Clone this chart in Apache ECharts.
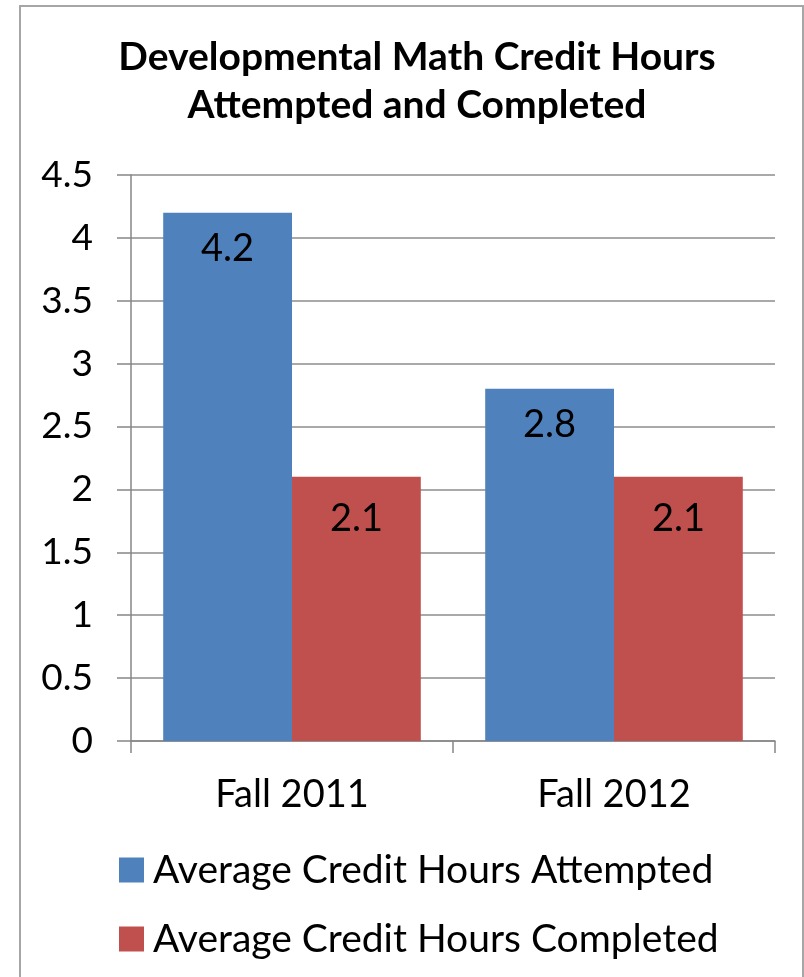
<!DOCTYPE html>
<html>
<head>
<meta charset="utf-8">
<script src="https://cdn.jsdelivr.net/npm/echarts@6/dist/echarts.min.js"></script>
<style>
  html, body { margin: 0; padding: 0; background: #fff; }
  #chart { width: 804px; height: 977px; }
</style>
</head>
<body>
<div id="chart"></div>
<script>
const categories = ['Fall 2011', 'Fall 2012']
const attempted = [4.2, 2.8]
const completed = [2.1, 2.1]
const seriesNames = ['Average Credit Hours Attempted', 'Average Credit Hours Completed']

const font = 'Lato'
const myChart = echarts.init(document.getElementById('chart'))

const option = {
  animation: false,
  textStyle: { fontFamily: font },
  graphic: [
    {
      type: 'rect',
      shape: { x: 20, y: 6, width: 783, height: 990 },
      style: { fill: 'none', stroke: '#a6a6a6', lineWidth: 2 }
    }
  ],
  title: {
    text: 'Developmental Math Credit Hours\nAttempted and Completed',
    left: 412,
    textAlign: 'center',
    top: 28,
    textStyle: {
      fontFamily: font,
      fontWeight: 'bold',
      fontSize: 39,
      lineHeight: 48,
      color: '#000'
    }
  },
  legend: {
    orient: 'vertical',
    left: 114,
    top: 845,
    itemWidth: 25,
    itemHeight: 25,
    itemGap: 29,
    icon: 'rect',
    textStyle: { fontFamily: font, fontSize: 39, lineHeight: 40, color: '#000', padding: [0, 0, 0, 4] },
    data: seriesNames
  },
  grid: { left: 131, right: 29, top: 175, bottom: 236 },
  xAxis: {
    type: 'category',
    data: categories,
    axisLine: { lineStyle: { color: '#868686', width: 1.5 } },
    axisTick: { show: true, length: 12, lineStyle: { color: '#868686', width: 1.5 } },
    axisLabel: { fontFamily: font, fontSize: 38, color: '#000', margin: 35 }
  },
  yAxis: {
    type: 'value',
    min: 0,
    max: 4.5,
    interval: 0.5,
    axisLine: { show: true, lineStyle: { color: '#868686', width: 1.5 } },
    axisTick: { show: true, length: 14, lineStyle: { color: '#868686', width: 1.5 } },
    splitLine: { lineStyle: { color: '#8c8c8c', width: 1.5 } },
    axisLabel: { fontFamily: font, fontSize: 37, color: '#000', margin: 38 }
  },
  series: [
    {
      name: seriesNames[0],
      type: 'bar',
      data: attempted,
      barGap: '0%',
      barCategoryGap: '20%',
      itemStyle: { color: '#4f81bd' },
      label: {
        show: true,
        position: 'insideTop',
        distance: 17,
        fontFamily: font,
        fontSize: 38,
        color: '#000'
      }
    },
    {
      name: seriesNames[1],
      type: 'bar',
      data: completed,
      itemStyle: { color: '#c0504d' },
      label: {
        show: true,
        position: 'insideTop',
        distance: 23,
        fontFamily: font,
        fontSize: 38,
        color: '#000'
      }
    }
  ]
}

myChart.setOption(option)
</script>
</body>
</html>
